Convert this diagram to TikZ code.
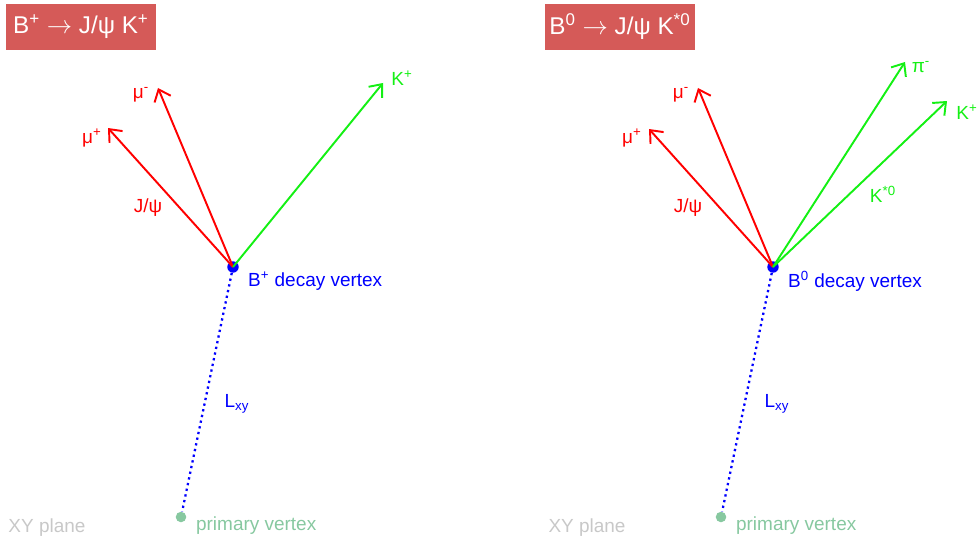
\documentclass[tikz,border=0pt]{standalone}
\usepackage{fontspec}
\setmainfont{Liberation Sans}
\usepackage{tikz}
\usetikzlibrary{positioning,arrows.meta}

\definecolor{boxred}{RGB}{213,90,88}
\definecolor{trkred}{RGB}{255,0,0}
\definecolor{trkgreen}{RGB}{20,240,20}
\definecolor{pvgreen}{RGB}{135,200,160}
\definecolor{planegray}{RGB}{200,200,200}

\tikzset{
  title/.style={fill=boxred, text=white, minimum width=3cm, minimum height=0.92cm, inner sep=0pt, font=\fontsize{13.8}{16}\selectfont},
  lbl/.style={inner sep=1pt, font=\fontsize{10.8}{12}\selectfont},
  trk/.style={line width=1.1pt, -{Straight Barb[length=6pt, width=10pt, line width=1.1pt]}},
  vtx/.style={circle, fill=blue, inner sep=0pt, minimum size=6.5pt},
  pv/.style={circle, fill=pvgreen, inner sep=0pt, minimum size=6pt},
  flight/.style={blue, line width=1.3pt, dotted}
}

\begin{document}
\begin{tikzpicture}[x=0.02cm, y=-0.02cm]
  \useasboundingbox (0,0) rectangle (979,544);

  % Left panel: B+ -> J/psi K+
  \node[title] (tB) at (81,27) {B\textsuperscript{+} $\rightarrow$ J/ψ K\textsuperscript{+}};
  \node[vtx] (vB) at (233,267) {};
  \node[pv] (pB) at (181,517) {};
  \coordinate (muPB) at (108,128);
  \coordinate (muMB) at (158,88);
  \coordinate (kB) at (383,83);
  \draw[trk, trkred] (vB.center) -- (muPB);
  \draw[trk, trkred] (vB.center) -- (muMB);
  \draw[trk, trkgreen] (vB.center) -- (kB);
  \draw[flight] (vB) -- (pB);
  \node[lbl, trkred] (lmuPB) at (92,138) {μ\textsuperscript{+}};
  \node[lbl, trkred] (lmuMB) at (141,95) {μ\textsuperscript{-}};
  \node[lbl, trkgreen] (lkB) at (402,78) {K\textsuperscript{+}};
  \node[lbl, trkred] (ljB) at (148,208) {J/ψ};
  \node[lbl, blue, anchor=west] (ldB) at (246,281) {B\textsuperscript{+} decay vertex};
  \node[lbl, blue] (lLB) at (237,404) {L\textsubscript{xy}};
  \node[lbl, pvgreen, anchor=west] (lpB) at (194,526) {primary vertex};
  \node[lbl, planegray] (xyB) at (47,528) {XY plane};

  % Right panel: B0 -> J/psi K*0
  \node[title] (tD) at (620,27) {B\textsuperscript{0} $\rightarrow$ J/ψ K\textsuperscript{*0}};
  \node[vtx] (vD) at (773,267) {};
  \node[pv] (pD) at (721,517) {};
  \coordinate (muPD) at (649,129);
  \coordinate (muMD) at (698,88);
  \coordinate (piD) at (905,62);
  \coordinate (kD) at (947,101);
  \draw[trk, trkred] (vD.center) -- (muPD);
  \draw[trk, trkred] (vD.center) -- (muMD);
  \draw[trk, trkgreen] (vD.center) -- (piD);
  \draw[trk, trkgreen] (vD.center) -- (kD);
  \draw[flight] (vD) -- (pD);
  \node[lbl, trkred] (lmuPD) at (632,138) {μ\textsuperscript{+}};
  \node[lbl, trkred] (lmuMD) at (681,95) {μ\textsuperscript{-}};
  \node[lbl, trkgreen] (lpiD) at (921,67) {π\textsuperscript{-}};
  \node[lbl, trkgreen] (lkD) at (967,112) {K\textsuperscript{+}};
  \node[lbl, trkgreen] (lksD) at (883,194) {K\textsuperscript{*0}};
  \node[lbl, trkred] (ljD) at (688,208) {J/ψ};
  \node[lbl, blue, anchor=west] (ldD) at (786,281) {B\textsuperscript{0} decay vertex};
  \node[lbl, blue] (lLD) at (777,404) {L\textsubscript{xy}};
  \node[lbl, pvgreen, anchor=west] (lpD) at (734,526) {primary vertex};
  \node[lbl, planegray] (xyD) at (587,528) {XY plane};
\end{tikzpicture}
\end{document}
